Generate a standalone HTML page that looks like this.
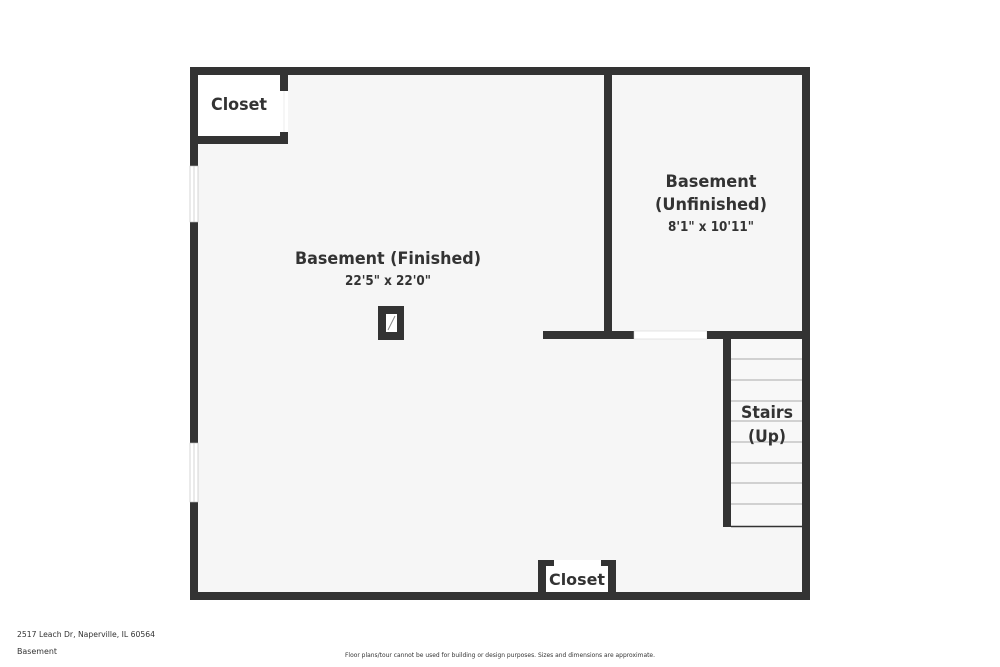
<!DOCTYPE html>
<html><head><meta charset="utf-8"><style>
html,body{margin:0;padding:0;background:#fff;width:1000px;height:667px;overflow:hidden}
svg{display:block}
text{font-family:"DejaVu Sans","Liberation Sans",sans-serif;fill:#333;font-weight:bold}
</style></head><body>
<svg width="1000" height="667" viewBox="0 0 1000 667" xmlns="http://www.w3.org/2000/svg">
<rect x="190" y="67" width="620" height="533" fill="#333"/>
<rect x="198" y="75" width="604" height="517" fill="#f6f6f6"/>
<!-- top-left closet -->
<rect x="198" y="75" width="82" height="61" fill="#fff"/>
<rect x="280" y="75" width="8" height="69" fill="#333"/>
<rect x="198" y="136" width="90" height="8" fill="#333"/>
<rect x="280" y="91" width="8" height="41" fill="#fff"/>
<line x1="284" y1="91" x2="284" y2="132" stroke="#ddd" stroke-width="0.5"/>
<!-- windows left -->
<rect x="190" y="166" width="8" height="56" fill="#fff" stroke="#bbb" stroke-width="0.6"/>
<line x1="194" y1="166" x2="194" y2="222" stroke="#bbb" stroke-width="0.6"/>
<rect x="190" y="443" width="8" height="59" fill="#fff" stroke="#bbb" stroke-width="0.6"/>
<line x1="194" y1="443" x2="194" y2="502" stroke="#bbb" stroke-width="0.6"/>
<!-- divider -->
<rect x="604" y="75" width="8" height="264" fill="#333"/>
<rect x="543" y="331" width="91" height="8" fill="#333"/>
<rect x="634" y="331" width="73" height="8" fill="#fff" stroke="#ccc" stroke-width="0.5"/>
<rect x="707" y="331" width="95" height="8" fill="#333"/>
<!-- stairs -->
<rect x="731" y="339" width="71" height="187" fill="#f8f8f8"/>
<rect x="723" y="339" width="8" height="188" fill="#333"/>
<g stroke="#aaa" stroke-width="1">
<line x1="731" y1="359" x2="802" y2="359"/><line x1="731" y1="380" x2="802" y2="380"/>
<line x1="731" y1="401" x2="802" y2="401"/><line x1="731" y1="421" x2="802" y2="421"/>
<line x1="731" y1="442" x2="802" y2="442"/><line x1="731" y1="463" x2="802" y2="463"/>
<line x1="731" y1="483" x2="802" y2="483"/><line x1="731" y1="504" x2="802" y2="504"/>
</g>
<line x1="731" y1="526.5" x2="802" y2="526.5" stroke="#333" stroke-width="1.5"/>
<!-- bottom closet -->
<rect x="538" y="560" width="78" height="40" fill="#333"/>
<rect x="546" y="566" width="62" height="26" fill="#fff"/>
<rect x="554" y="560" width="47" height="6" fill="#fff"/>
<!-- object -->
<rect x="378" y="306" width="26" height="34" fill="#333"/>
<rect x="386" y="314" width="11" height="18" fill="#fff"/>
<line x1="388" y1="330" x2="395" y2="316" stroke="#888" stroke-width="1"/>
<!-- labels -->
<text x="239" y="110" font-size="17" text-anchor="middle" textLength="56" lengthAdjust="spacingAndGlyphs">Closet</text>
<text x="388" y="264" font-size="17" text-anchor="middle" textLength="186" lengthAdjust="spacingAndGlyphs">Basement (Finished)</text>
<text x="388" y="285" font-size="13" text-anchor="middle" textLength="86" lengthAdjust="spacingAndGlyphs">22'5" x 22'0"</text>
<text x="711" y="187" font-size="17" text-anchor="middle" textLength="91" lengthAdjust="spacingAndGlyphs">Basement</text>
<text x="711" y="210" font-size="17" text-anchor="middle" textLength="112" lengthAdjust="spacingAndGlyphs">(Unfinished)</text>
<text x="711" y="231" font-size="13" text-anchor="middle" textLength="86" lengthAdjust="spacingAndGlyphs">8'1" x 10'11"</text>
<text x="767" y="418" font-size="17" text-anchor="middle" textLength="52" lengthAdjust="spacingAndGlyphs">Stairs</text>
<text x="767" y="442" font-size="17" text-anchor="middle" textLength="38" lengthAdjust="spacingAndGlyphs">(Up)</text>
<text x="577" y="585" font-size="16" text-anchor="middle" textLength="56" lengthAdjust="spacingAndGlyphs">Closet</text>
<text x="17" y="637" font-size="8" style="font-weight:normal" fill="#333" textLength="138" lengthAdjust="spacingAndGlyphs">2517 Leach Dr, Naperville, IL 60564</text>
<text x="17" y="654" font-size="8" style="font-weight:normal" textLength="40" lengthAdjust="spacingAndGlyphs">Basement</text>
<text x="345" y="657" font-size="6" style="font-weight:normal" textLength="310" lengthAdjust="spacingAndGlyphs">Floor plans/tour cannot be used for building or design purposes. Sizes and dimensions are approximate.</text>
</svg>
</body></html>
